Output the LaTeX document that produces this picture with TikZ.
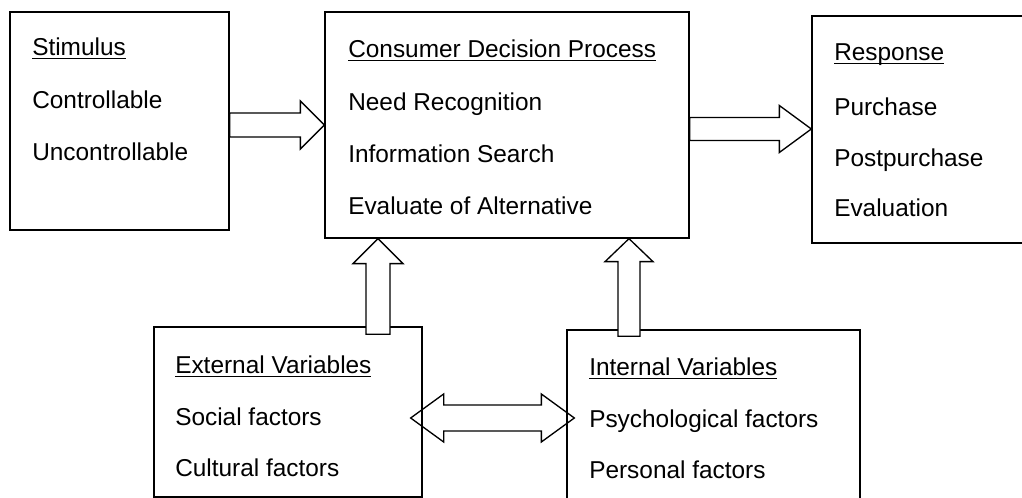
\documentclass[tikz,border=0pt]{standalone}
\usepackage{fontspec}
\setmainfont{Liberation Sans}
\usetikzlibrary{calc,fit}

% heading text with a rule just under the baseline
\newcommand\hdr[1]{\setbox0\hbox{#1}\rlap{\vrule height -1.7pt depth 2.5pt width \wd0}\box0}

% block arrow pointing right: tail, tip, shaft half-width, head half-width, head length
\newcommand\rightblock[5]{%
  \draw[blk] ([shift={(0,-#3)}]#1) -- ([shift={(-#5,-#3)}]#2) -- ([shift={(-#5,-#4)}]#2)
    -- (#2) -- ([shift={(-#5,#4)}]#2) -- ([shift={(-#5,#3)}]#2) -- ([shift={(0,#3)}]#1) -- cycle;}
% block arrow pointing up: tail, tip, shaft half-width, head half-width, head length
\newcommand\upblock[5]{%
  \draw[blk] ([shift={(-#3,0)}]#1) -- ([shift={(-#3,#5)}]#2) -- ([shift={(-#4,#5)}]#2)
    -- (#2) -- ([shift={(#4,#5)}]#2) -- ([shift={(#3,#5)}]#2) -- ([shift={(#3,0)}]#1) -- cycle;}
% two-headed horizontal block arrow: left tip, right tip, shaft half-width, head half-width, head length
\newcommand\twoblock[5]{%
  \draw[blk,fill=none] (#1) -- ([shift={(#5,-#4)}]#1) -- ([shift={(#5,-#3)}]#1)
    -- ([shift={(-#5,-#3)}]#2) -- ([shift={(-#5,-#4)}]#2) -- (#2)
    -- ([shift={(-#5,#4)}]#2) -- ([shift={(-#5,#3)}]#2) -- ([shift={(#5,#3)}]#1)
    -- ([shift={(#5,#4)}]#1) -- cycle;}

\tikzset{
  box/.style={draw, line width=1pt, inner sep=0pt},
  lbl/.style={inner sep=0pt, anchor=base west, font=\fontsize{18.3}{22}\selectfont},
  blk/.style={draw, line width=1pt, fill=white, line join=miter},
}

\begin{document}
\begin{tikzpicture}[x=0.75pt, y=-0.75pt]
\useasboundingbox (0,0) rectangle (1022,498);
\clip (0,0) rectangle (1022,498);

% boxes
\path (10,12) coordinate (s1) (229,230) coordinate (s2)
      (325,12) coordinate (c1) (689,238) coordinate (c2)
      (812,16) coordinate (r1) (1040,243) coordinate (r2)
      (154,327) coordinate (e1) (422,497) coordinate (e2)
      (567,330) coordinate (i1) (860,520) coordinate (i2);
\node[box, fit=(s1)(s2)] (stim) {};
\node[box, fit=(c1)(c2)] (cdp) {};
\node[box, fit=(r1)(r2)] (resp) {};
\node[box, fit=(e1)(e2)] (ext) {};
\node[box, fit=(i1)(i2)] (int) {};

% box contents
\node[lbl] (t11) at (32,56)  {\hdr{Stimulus}};
\node[lbl] (t12) at (32,109) {Controllable};
\node[lbl] (t13) at (32,161) {Uncontrollable};

\node[lbl] (t21) at (348,58)  {\hdr{Consumer Decision Process}};
\node[lbl] (t22) at (348,111) {Need Recognition};
\node[lbl] (t23) at (348,163) {Information Search};
\node[lbl] (t24) at (348,215) {Evaluate of Alternative};

\node[lbl] (t31) at (834,61)  {\hdr{Response}};
\node[lbl] (t32) at (834,116) {Purchase};
\node[lbl] (t33) at (834,167) {Postpurchase};
\node[lbl] (t34) at (834,217) {Evaluation};

\node[lbl] (t41) at (175,374) {\hdr{External Variables}};
\node[lbl] (t42) at (175,426) {Social factors};
\node[lbl] (t43) at (175,477) {Cultural factors};

\node[lbl] (t51) at (589,376) {\hdr{Internal Variables}};
\node[lbl] (t52) at (589,428) {Psychological factors};
\node[lbl] (t53) at (589,479) {Personal factors};

% arrow end points
\coordinate (a1s) at (stim.east |- 0,125);
\coordinate (a1e) at (cdp.west |- 0,125);
\coordinate (a2s) at (cdp.east |- 0,129);
\coordinate (a2e) at (resp.west |- 0,129);
\coordinate (u1s) at ($(ext.north -| 378,0)+(0,8)$);
\coordinate (u1e) at (cdp.south -| 378,0);
\coordinate (u2s) at ($(int.north -| 629,0)+(0,7)$);
\coordinate (u2e) at (cdp.south -| 629,0);
\coordinate (d1) at ($(ext.east |- 0,418)+(-12,0)$);
\coordinate (d2) at ($(int.west |- 0,418)+(8,0)$);

% block arrows
\rightblock{a1s}{a1e}{12}{24}{24}
\rightblock{a2s}{a2e}{11.5}{23.5}{32}
\upblock{u1s}{u1e}{12}{25}{25}
\upblock{u2s}{u2e}{11}{24}{23}
\twoblock{d1}{d2}{13}{24}{33}
\end{tikzpicture}
\end{document}
